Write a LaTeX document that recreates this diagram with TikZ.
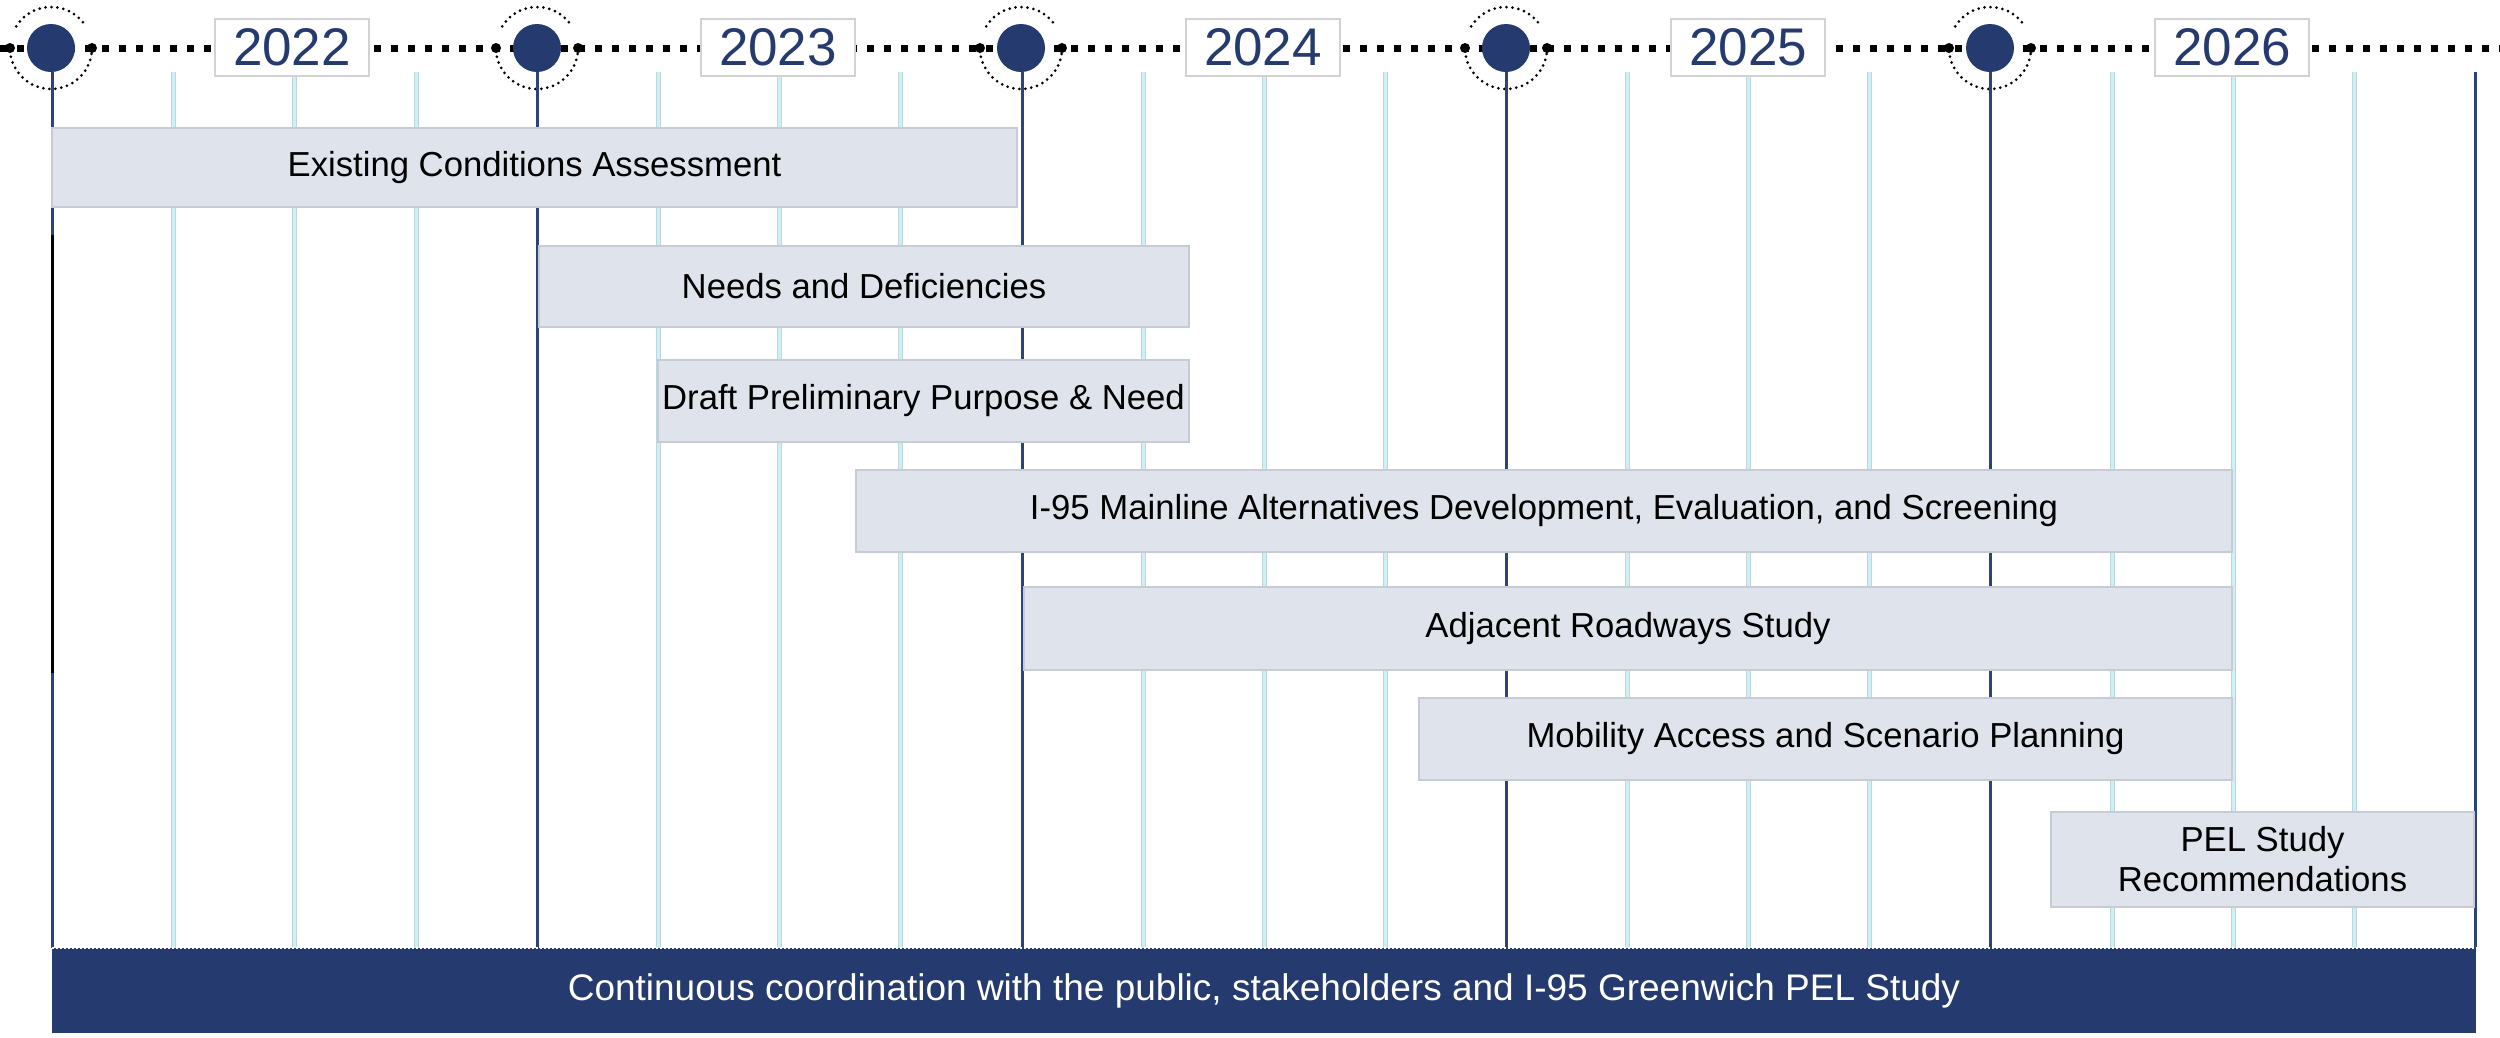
\documentclass[tikz,border=0pt]{standalone}
\usepackage{fontspec}
\setmainfont{Liberation Sans}
\definecolor{navy}{HTML}{253A6E}
\definecolor{navyline}{HTML}{2E4378}
\definecolor{barfill}{HTML}{DFE3EC}
\definecolor{barline}{HTML}{C6CBD6}
\definecolor{tickc}{HTML}{CFEFF6}
\definecolor{tickedge}{HTML}{BCD6DC}
\definecolor{yearbox}{HTML}{D2D2D2}
\begin{document}
\begin{tikzpicture}[x=1pt,y=-1pt,
  task/.style={draw=barline, line width=1.5pt, fill=barfill, inner sep=0pt,
    font=\fontsize{34.7}{40}\selectfont, text=black, align=center},
  yearlbl/.style={draw=yearbox, line width=1.5pt, fill=white, inner sep=0pt,
    minimum width=154pt, minimum height=57pt, text=navy, font=\fontsize{53}{60}\selectfont},
  milestone/.style={circle, fill=navy, minimum size=48pt, inner sep=0pt},
  ring/.style={black, line width=3pt, line cap=round, dash pattern=on 0pt off 6pt},
  ringend/.style={circle, fill=black, minimum size=10pt, inner sep=0pt},
  timeline/.style={black, line width=7pt, dash pattern=on 7pt off 10pt},
  yearline/.style={navyline, line width=3pt},
  tickline/.style={tickc, line width=4pt},
  footer/.style={fill=navy, inner sep=0pt, minimum width=2424pt, minimum height=85pt,
    text=white, font=\fontsize{37}{42}\selectfont}
]
\useasboundingbox (0,0) rectangle (2500,1037);
\fill[white] (0,0) rectangle (2500,1037);

% timeline
\coordinate (tl0) at (0,48);
\coordinate (tl1) at (2500,48);
\draw[timeline] (tl0) -- (tl1);

% quarter ticks
\foreach \x in {173,294,416,658,779,900,1143,1264,1385,1627,1748,1869,2112,2233,2354}{
  \coordinate (tt\x) at (\x,72);
  \coordinate (tb\x) at (\x,948);
  \draw[tickedge, line width=5pt] (tt\x) -- (tb\x);
  \draw[tickline, line width=3pt] (tt\x) -- (tb\x);
}

% milestones with dotted rings
\foreach \i/\x in {1/51,2/537,3/1021,4/1506,5/1990}{
  \draw[ring] (\x,48) ++(212:41) arc (212:328:41);
  \draw[ring] (\x,48) ++(0:41) arc (0:180:41);
  \node[ringend] (re\i a) at (\x-41,48) {};
  \node[ringend] (re\i b) at (\x+41,48) {};
  \node[milestone] (c\i) at (\x,48) {};
}
\coordinate (b1) at (52,948);
\coordinate (b2) at (537,948);
\coordinate (b3) at (1022,948);
\coordinate (b4) at (1506,948);
\coordinate (b5) at (1990,948);
\coordinate (e6t) at (2475,72);
\coordinate (b6) at (2475,948);
\draw[yearline] (c1.south -| b1) -- (b1);
\draw[yearline] (c2.south -| b2) -- (b2);
\draw[yearline] (c3.south -| b3) -- (b3);
\draw[yearline] (c4.south -| b4) -- (b4);
\draw[yearline] (c5.south -| b5) -- (b5);
\draw[yearline] (e6t) -- (b6);
\coordinate (k1) at (52,235);
\coordinate (k2) at (52,673);
\draw[black, line width=3pt] (k1) -- (k2);

% year labels
\node[yearlbl] (y2022) at (292,47.5) {2022};
\node[yearlbl] (y2023) at (778,47.5) {2023};
\node[yearlbl] (y2024) at (1263,47.5) {2024};
\node[yearlbl] (y2025) at (1748,47.5) {2025};
\node[yearlbl] (y2026) at (2232,47.5) {2026};

% tasks
\node[task, minimum width=965pt, minimum height=79pt] (t1) at (534.5,167.5) {Existing Conditions Assessment};
\node[task, minimum width=650pt, minimum height=81pt] (t2) at (864,286.5) {Needs and Deficiencies};
\node[task, minimum width=531pt, minimum height=82pt] (t3) at (923.5,401) {Draft Preliminary Purpose \& Need};
\node[task, minimum width=1376pt, minimum height=82pt] (t4) at (1544,511) {I-95 Mainline Alternatives Development, Evaluation, and Screening};
\node[task, minimum width=1208pt, minimum height=83pt] (t5) at (1628,628.5) {Adjacent Roadways Study};
\node[task, minimum width=813pt, minimum height=82pt] (t6) at (1825.5,739) {Mobility Access and Scenario Planning};
\node[task, minimum width=423pt, minimum height=95pt] (t7) at (2262.5,859.5) {PEL Study\\Recommendations};

% footer
\node[footer] (foot) at (1264,990.5) {Continuous coordination with the public, stakeholders and I-95 Greenwich PEL Study};
\draw[white, line width=1.5pt, dash pattern=on 2pt off 2pt] (foot.north west) -- (foot.north east);
\end{tikzpicture}
\end{document}
